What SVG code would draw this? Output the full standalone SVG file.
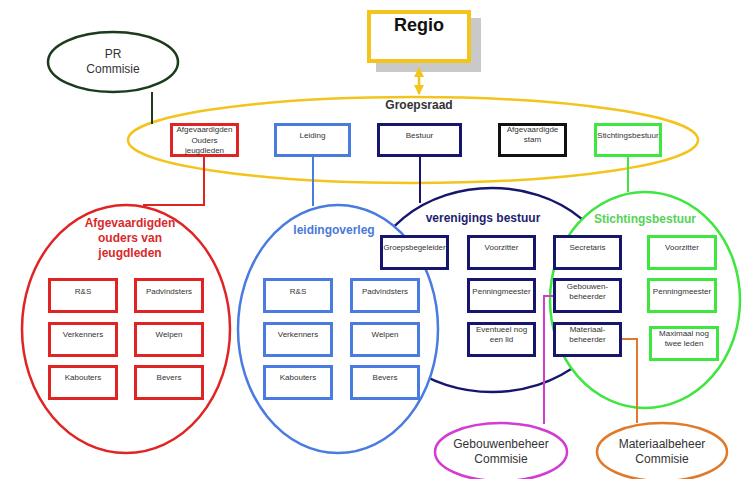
<svg xmlns="http://www.w3.org/2000/svg" width="743" height="479" viewBox="0 0 743 479">
<defs>
<style>
text{font-family:"Liberation Sans",Arial,sans-serif;text-anchor:middle}
.bx{fill:#fff;stroke-width:3}
.lbl{font-size:8px;fill:#333}
.ttl{font-size:12px;font-weight:bold}
.com{font-size:12px;fill:#333}
.ell{stroke-width:2.5}
.red{stroke:#E02424}
.blue{stroke:#4A7BE0}
.navy{stroke:#16166E}
.green{stroke:#3FE63F}
.blk{stroke:#111}
.yel{stroke:#F2C41C}
.con{fill:none;stroke-width:2}
</style>
<marker id="ay" viewBox="0 0 10 10" refX="9" refY="5" markerWidth="4" markerHeight="4" orient="auto-start-reverse">
<path d="M0,0 L10,5 L0,10 z" fill="#F2C41C"/>
</marker>
</defs>
<rect width="743" height="479" fill="#fff"/>

<g id="regio">
<rect x="376" y="18" width="105" height="54" fill="#c9c9c9"/>
<rect x="369" y="12" width="100" height="49" fill="#fff" stroke="#F2C41C" stroke-width="4"/>
<text x="419" y="31" style="font-size:18px;font-weight:bold" fill="#111">Regio</text>
</g>

<g id="groepsraad">
<ellipse cx="413" cy="140" rx="285" ry="43" fill="none" class="ell yel"/>
<text x="419" y="109" class="ttl" fill="#333">Groepsraad</text>
</g>

<g id="pr-commisie">
<ellipse cx="113" cy="62" rx="65" ry="30" fill="#fff" stroke="#1C3A1C" stroke-width="2.5"/>
<text x="113" y="58" class="com">PR</text>
<text x="113" y="73" class="com">Commisie</text>
</g>

<g id="gr-afgevaardigden">
<rect x="171.5" y="124.5" width="66" height="31" class="bx red"/>
<text x="204.5" y="132" class="lbl">Afgevaardigden</text>
<text x="204.5" y="142.5" class="lbl">Ouders</text>
<text x="204.5" y="153" class="lbl">jeugdleden</text>
</g>
<g id="gr-leiding">
<rect x="275.5" y="124.5" width="74" height="31" class="bx blue"/>
<text x="312.5" y="138" class="lbl">Leiding</text>
</g>
<g id="gr-bestuur">
<rect x="378.5" y="124.5" width="82" height="31" class="bx navy"/>
<text x="419.5" y="138" class="lbl">Bestuur</text>
</g>
<g id="gr-stam">
<rect x="499.5" y="124.5" width="66" height="31" class="bx blk"/>
<text x="532.5" y="132" class="lbl">Afgevaardigde</text>
<text x="532.5" y="142" class="lbl">stam</text>
</g>
<g id="gr-stichtingsbestuur">
<rect x="595.5" y="124.5" width="65" height="31" class="bx green"/>
<text x="628" y="138" class="lbl">Stichtingsbestuur</text>
</g>

<g id="ouders">
<ellipse cx="126" cy="329" rx="104" ry="124" fill="#fff" class="ell red"/>
<text x="130" y="227" class="ttl" fill="#D82A2A">Afgevaardigden</text>
<text x="130" y="242" class="ttl" fill="#D82A2A">ouders van</text>
<text x="130" y="257" class="ttl" fill="#D82A2A">jeugdleden</text>
</g>
<g id="o-rs"><rect x="49.5" y="279.5" width="67" height="32" class="bx red"/><text x="83" y="294" class="lbl">R&amp;S</text></g>
<g id="o-padvindsters"><rect x="135.5" y="279.5" width="67" height="32" class="bx red"/><text x="169" y="294" class="lbl">Padvindsters</text></g>
<g id="o-verkenners"><rect x="49.5" y="323.5" width="67" height="32" class="bx red"/><text x="83" y="337" class="lbl">Verkenners</text></g>
<g id="o-welpen"><rect x="135.5" y="323.5" width="67" height="32" class="bx red"/><text x="169" y="337" class="lbl">Welpen</text></g>
<g id="o-kabouters"><rect x="49.5" y="366.5" width="67" height="32" class="bx red"/><text x="83" y="380" class="lbl">Kabouters</text></g>
<g id="o-bevers"><rect x="135.5" y="366.5" width="67" height="32" class="bx red"/><text x="169" y="380" class="lbl">Bevers</text></g>

<g id="verenigingsbestuur">
<ellipse cx="492" cy="290" rx="125" ry="102" fill="#fff" class="ell navy"/>
<text x="483" y="222" class="ttl" fill="#1E1E70">verenigings bestuur</text>
</g>

<g id="leidingoverleg">
<ellipse cx="338" cy="329" rx="100" ry="124" fill="#fff" class="ell blue"/>
<text x="334" y="234" class="ttl" fill="#4A78D8">leidingoverleg</text>
</g>
<g id="l-rs"><rect x="264.5" y="279.5" width="67" height="32" class="bx blue"/><text x="298" y="294" class="lbl">R&amp;S</text></g>
<g id="l-padvindsters"><rect x="351.5" y="279.5" width="67" height="32" class="bx blue"/><text x="385" y="294" class="lbl">Padvindsters</text></g>
<g id="l-verkenners"><rect x="264.5" y="323.5" width="67" height="32" class="bx blue"/><text x="298" y="337" class="lbl">Verkenners</text></g>
<g id="l-welpen"><rect x="351.5" y="323.5" width="67" height="32" class="bx blue"/><text x="385" y="337" class="lbl">Welpen</text></g>
<g id="l-kabouters"><rect x="264.5" y="366.5" width="67" height="32" class="bx blue"/><text x="298" y="380" class="lbl">Kabouters</text></g>
<g id="l-bevers"><rect x="351.5" y="366.5" width="67" height="32" class="bx blue"/><text x="385" y="380" class="lbl">Bevers</text></g>

<g id="stichtingsbestuur">
<ellipse cx="645" cy="300" rx="95" ry="108" fill="#fff" class="ell green"/>
<text x="645" y="223" class="ttl" fill="#55D455">Stichtingsbestuur</text>
</g>
<g id="s-voorzitter"><rect x="648.5" y="236.5" width="67" height="32" class="bx green"/><text x="682" y="250" class="lbl">Voorzitter</text></g>
<g id="s-penningmeester"><rect x="648.5" y="279.5" width="67" height="32" class="bx green"/><text x="682" y="294" class="lbl">Penningmeester</text></g>
<g id="s-maximaal"><rect x="650.5" y="327.5" width="67" height="32" class="bx green"/><text x="684" y="336" class="lbl">Maximaal nog</text><text x="684" y="346" class="lbl">twee leden</text></g>

<g id="v-groepsbegeleider"><rect x="381.5" y="236.5" width="66" height="32" class="bx navy"/><text x="414.5" y="250" class="lbl" textLength="62" lengthAdjust="spacingAndGlyphs">Groepsbegeleider</text></g>
<g id="v-voorzitter"><rect x="468.5" y="236.5" width="66" height="32" class="bx navy"/><text x="501.5" y="250" class="lbl">Voorzitter</text></g>
<g id="v-penningmeester"><rect x="468.5" y="279.5" width="66" height="32" class="bx navy"/><text x="501.5" y="294" class="lbl">Penningmeester</text></g>
<g id="v-eventueel"><rect x="468.5" y="323.5" width="66" height="32" class="bx navy"/><text x="501.5" y="332" class="lbl">Eventueel nog</text><text x="501.5" y="342" class="lbl">een lid</text></g>
<g id="v-secretaris"><rect x="554.5" y="236.5" width="66" height="32" class="bx navy"/><text x="587.5" y="250" class="lbl">Secretaris</text></g>
<g id="v-gebouwenbeheerder"><rect x="554.5" y="279.5" width="66" height="32" class="bx navy"/><text x="587.5" y="289" class="lbl">Gebouwen-</text><text x="587.5" y="299" class="lbl">beheerder</text></g>
<g id="v-materiaalbeheerder"><rect x="554.5" y="323.5" width="66" height="32" class="bx navy"/><text x="587.5" y="332" class="lbl">Materiaal-</text><text x="587.5" y="342" class="lbl">beheerder</text></g>

<g id="gebouwenbeheer-commisie">
<ellipse cx="501" cy="452" rx="66" ry="29" fill="#fff" stroke="#D23CD2" stroke-width="2.5"/>
<text x="501" y="448" class="com">Gebouwenbeheer</text>
<text x="501" y="463" class="com">Commisie</text>
</g>
<g id="materiaalbeheer-commisie">
<ellipse cx="662" cy="452" rx="65" ry="29" fill="#fff" stroke="#E07A2A" stroke-width="2.5"/>
<text x="662" y="448" class="com">Materiaalbeheer</text>
<text x="662" y="463" class="com">Commisie</text>
</g>

<g id="connectors">
<line x1="419" y1="68" x2="419" y2="94" stroke="#F2C41C" stroke-width="2.5" marker-start="url(#ay)" marker-end="url(#ay)"/>
<line x1="152" y1="92" x2="152" y2="124" class="con" stroke="#1C3A1C"/>
<polyline points="204,157 204,205 143,205" class="con red"/>
<line x1="313" y1="157" x2="313" y2="206" class="con blue"/>
<line x1="420" y1="157" x2="420" y2="203" class="con navy"/>
<line x1="628" y1="157" x2="628" y2="192" class="con green"/>
<polyline points="553,296 544,296 544,424" class="con" stroke="#D23CD2"/>
<polyline points="622,339 637,339 637,423" class="con" stroke="#E07A2A"/>
</g>
</svg>
